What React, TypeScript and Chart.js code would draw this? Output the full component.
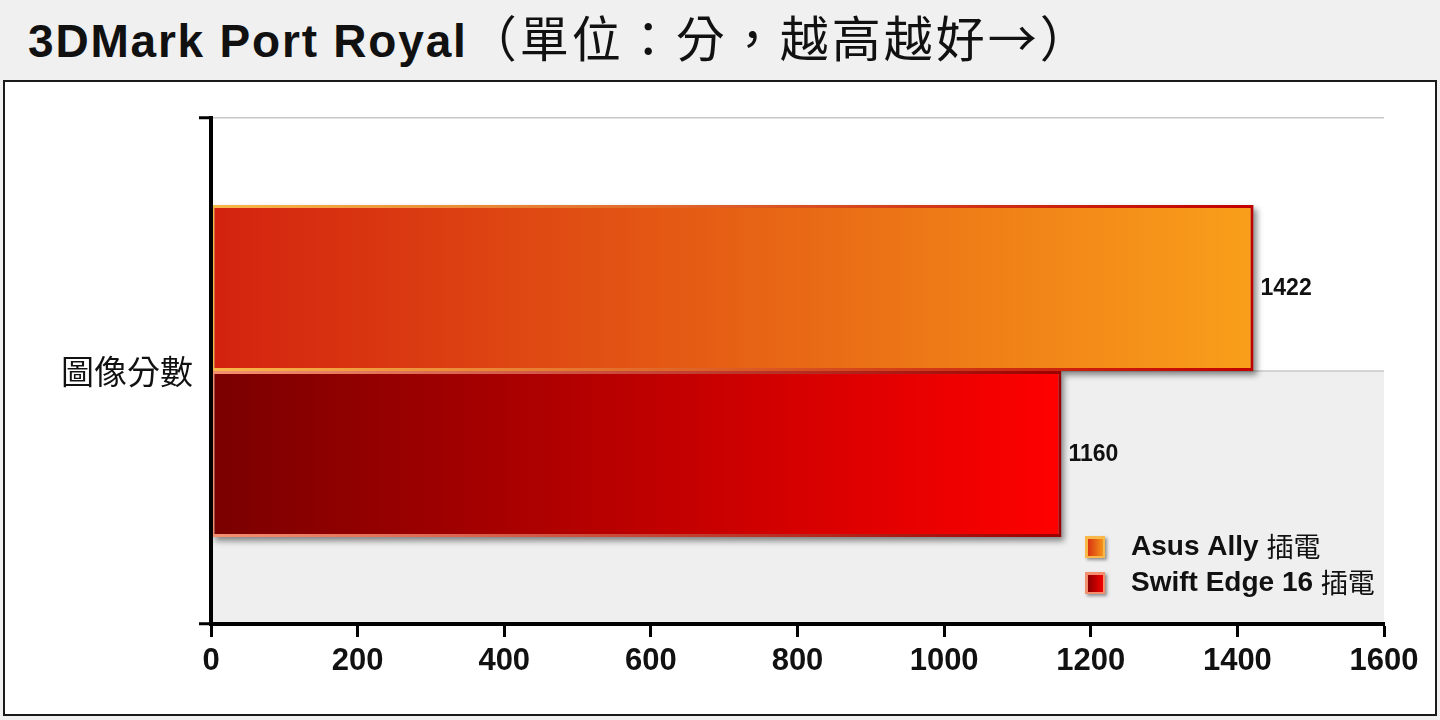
import React, { useEffect, useRef } from 'react';
import Chart from 'chart.js/auto';

const TITLE_MAIN = '3DMark Port Royal';
const TITLE_NOTE = '（單位：分，越高越好→）';
const categories = ['圖像分數'];
const seriesNames = ['Asus Ally 插電', 'Swift Edge 16 插電'];
const asusAlly = [1422];
const swiftEdge16 = [1160];
const xTicks = [0, 200, 400, 600, 800, 1000, 1200, 1400, 1600];

const LATIN = "'Liberation Sans', Arial, sans-serif";
const CJK = "'Noto Sans CJK TC', 'Noto Sans CJK SC', sans-serif";
const MIXED = "'Liberation Sans', 'Noto Sans CJK TC', sans-serif";

// left -> right colour stops for fills and edges
const FILL = [['#d3220f', '#f99f1a'], ['#7a0000', '#ff0000']];
const EDGE = [['#f8b84a', '#c00000'], ['#f49070', '#9a0000']];

function barPaint(stops: string[]) {
  return (c: any) => {
    const chart = c.chart;
    if (!chart.chartArea || c.raw == null) return stops[1];
    const x = chart.scales.x;
    const g = chart.ctx.createLinearGradient(x.getPixelForValue(0), 0, x.getPixelForValue(c.raw), 0);
    g.addColorStop(0, stops[0]);
    g.addColorStop(1, stops[1]);
    return g;
  };
}

// grey lower band + middle rule of the plot area
const backdrop = {
  id: 'backdrop',
  beforeDraw(chart: any) {
    const { ctx, chartArea: a } = chart;
    const mid = chart.scales.y.getPixelForValue(0);
    ctx.save();
    ctx.fillStyle = '#efefef';
    ctx.fillRect(a.left, mid, a.right - a.left, a.bottom - mid);
    ctx.strokeStyle = '#c8c8c8';
    ctx.lineWidth = 1.5;
    ctx.beginPath();
    ctx.moveTo(a.left, mid);
    ctx.lineTo(a.right, mid);
    ctx.stroke();
    ctx.restore();
  },
};

const barRect = (el: any) => {
  const p = el.getProps(['x', 'y', 'base', 'height'], true);
  return { l: Math.min(p.base, p.x), r: Math.max(p.base, p.x), t: p.y - p.height / 2, h: p.height };
};

const shadows = {
  id: 'shadows',
  beforeDatasetsDraw(chart: any) {
    const { ctx } = chart;
    ctx.save();
    ctx.shadowColor = 'rgba(0,0,0,0.45)';
    ctx.shadowBlur = 6;
    ctx.shadowOffsetX = 3;
    ctx.shadowOffsetY = 4;
    ctx.fillStyle = '#999';
    chart.data.datasets.forEach((_: any, i: number) => {
      chart.getDatasetMeta(i).data.forEach((el: any) => {
        const b = barRect(el);
        ctx.fillRect(b.l, b.t, b.r - b.l, b.h);
      });
    });
    ctx.restore();
  },
};

const valueLabels = {
  id: 'valueLabels',
  afterDatasetsDraw(chart: any) {
    const { ctx } = chart;
    ctx.save();
    ctx.font = `bold 23px ${LATIN}`;
    ctx.fillStyle = '#111';
    ctx.textAlign = 'left';
    ctx.textBaseline = 'middle';
    chart.data.datasets.forEach((ds: any, i: number) => {
      chart.getDatasetMeta(i).data.forEach((el: any, j: number) => {
        const b = barRect(el);
        ctx.fillText(String(ds.data[j]), b.r + 7, b.t + b.h / 2 + 1);
      });
    });
    ctx.restore();
  },
};

const boxLegend = {
  id: 'boxLegend',
  afterDraw(chart: any) {
    const { ctx, chartArea: a } = chart;
    const x0 = a.right - 299;
    ctx.save();
    chart.data.datasets.forEach((ds: any, i: number) => {
      const cy = a.bottom - 77 + i * 36;
      const g = ctx.createLinearGradient(x0, 0, x0 + 20, 0);
      g.addColorStop(0, FILL[i][0]);
      g.addColorStop(1, FILL[i][1]);
      ctx.save();
      ctx.shadowColor = 'rgba(0,0,0,0.4)';
      ctx.shadowBlur = 3;
      ctx.shadowOffsetX = 2;
      ctx.shadowOffsetY = 2;
      ctx.fillStyle = EDGE[i][0];
      ctx.fillRect(x0, cy - 11, 20, 22);
      ctx.restore();
      ctx.fillStyle = g;
      ctx.fillRect(x0 + 3, cy - 8, 15, 17);

      const m = String(ds.label).match(/^(.*?)\s*([\u3000-\u9fff]+)$/);
      const latin = m ? m[1] + ' ' : ds.label;
      const cjk = m ? m[2] : '';
      ctx.fillStyle = '#111';
      ctx.textAlign = 'left';
      ctx.textBaseline = 'middle';
      ctx.font = `bold 28px ${LATIN}`;
      const tx = x0 + 46;
      ctx.fillText(latin, tx, cy);
      const w = ctx.measureText(latin).width;
      ctx.font = `27px ${CJK}`;
      ctx.fillText(cjk, tx + w, cy);
    });
    ctx.restore();
  },
};

const PortRoyalChart: React.FC = () => {
  const ref = useRef<HTMLCanvasElement>(null);

  useEffect(() => {
    if (!ref.current) return;
    const chart = new Chart(ref.current, {
      type: 'bar',
      data: {
        labels: categories,
        datasets: [
          {
            label: seriesNames[0],
            data: asusAlly,
            backgroundColor: barPaint(FILL[0]),
            borderColor: barPaint(EDGE[0]),
            borderWidth: 3,
            borderSkipped: false,
          },
          {
            label: seriesNames[1],
            data: swiftEdge16,
            backgroundColor: barPaint(FILL[1]),
            borderColor: barPaint(EDGE[1]),
            borderWidth: 3,
            borderSkipped: false,
          },
        ],
      },
      options: {
        indexAxis: 'y',
        responsive: true,
        maintainAspectRatio: false,
        animation: false,
        layout: { padding: { top: 36, right: 51, left: 0, bottom: 0 } },
        datasets: { bar: { categoryPercentage: 0.656, barPercentage: 1 } },
        plugins: { legend: { display: false }, tooltip: { enabled: false } },
        scales: {
          x: {
            type: 'linear',
            min: xTicks[0],
            max: xTicks[xTicks.length - 1],
            afterBuildTicks: (s: any) => {
              s.ticks = xTicks.map((v) => ({ value: v }));
            },
            afterFit: (s: any) => {
              s.height = 90;
            },
            grid: { drawOnChartArea: false, drawTicks: true, tickLength: 13, tickColor: '#000', tickWidth: 3 },
            border: { color: '#000', width: 4 },
            ticks: {
              color: '#111',
              font: { family: LATIN, size: 31, weight: 'bold' },
              padding: 6,
              maxRotation: 0,
              autoSkip: false,
              callback: (v: any) => String(v),
            },
          },
          y: {
            type: 'category',
            afterFit: (s: any) => {
              s.width = 206;
            },
            grid: { color: '#c8c8c8', lineWidth: 1.5, tickColor: '#000', tickWidth: 3, tickLength: 12 },
            border: { color: '#000', width: 4, z: 1 },
            ticks: { color: '#111', font: { family: CJK, size: 33 }, padding: 6 },
          },
        },
      } as any,
      plugins: [backdrop, shadows, valueLabels, boxLegend],
    });
    return () => chart.destroy();
  }, []);

  return <canvas ref={ref} />;
};

export default function App() {
  return (
    <div
      style={{
        position: 'fixed',
        left: 0,
        top: 0,
        width: 1440,
        height: 720,
        background: '#f0f0f0',
        fontFamily: MIXED,
        overflow: 'hidden',
      }}
    >
      <div
        style={{
          position: 'absolute',
          left: 28,
          top: 0,
          height: 80,
          lineHeight: '72px',
          whiteSpace: 'nowrap',
          color: '#111',
        }}
      >
        <span style={{ fontFamily: LATIN, fontWeight: 'bold', fontSize: 46, letterSpacing: 1.8 }}>{TITLE_MAIN}</span>
        <span style={{ fontFamily: CJK, fontSize: 49, letterSpacing: 3 }}>{TITLE_NOTE}</span>
      </div>
      <div
        style={{
          position: 'absolute',
          left: 3,
          top: 80,
          width: 1430,
          height: 632,
          border: '2px solid #1a1a1a',
          background: '#fff',
        }}
      >
        <div style={{ position: 'relative', width: '100%', height: '100%' }}>
          <PortRoyalChart />
        </div>
      </div>
    </div>
  );
}
